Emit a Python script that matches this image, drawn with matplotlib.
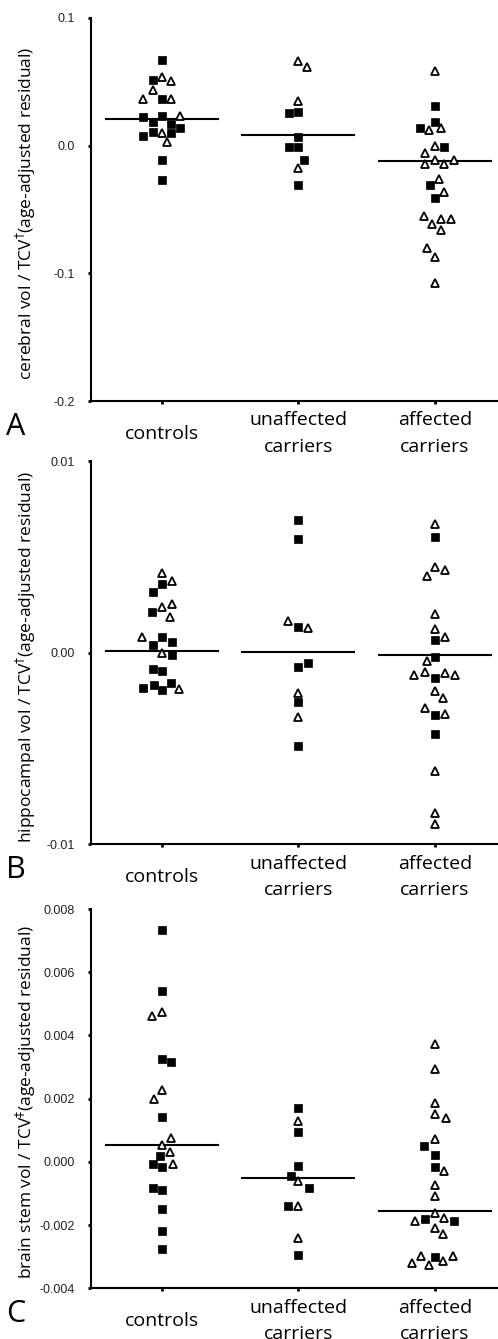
import matplotlib
matplotlib.use("Agg")
import matplotlib.pyplot as plt

# grupos
grupos = ["controls", "unaffected\ncarriers", "affected\ncarriers"]
letras = ["A", "B", "C"]
etiquetas_y = [
    r"cerebral vol / TCV$^{\dagger}$(age-adjusted residual)",
    r"hippocampal vol / TCV$^{\dagger}$(age-adjusted residual)",
    r"brain stem vol / TCV$^{\ddagger}$(age-adjusted residual)",
]

# ticks del eje y
ticks_a = [-0.2, -0.1, 0.0, 0.1]
ticks_a_txt = ["-0.2", "-0.1", "0.0", "0.1"]
ticks_b = [-0.01, 0.0, 0.01]
ticks_b_txt = ["-0.01", "0.00", "0.01"]
ticks_c = [-0.004, -0.002, 0.0, 0.002, 0.004, 0.006, 0.008]
ticks_c_txt = ["-0.004", "-0.002", "0.000", "0.002", "0.004", "0.006", "0.008"]

# Panel A: valores, tipo (s = cuadrado relleno, t = triangulo abierto), desplazamiento
a_ctrl = [0.0667, 0.0515, 0.0536, 0.051, 0.0434, 0.0366, 0.0366, 0.0366, 0.0225, 0.023, 0.023,
          0.0186, 0.017, 0.0139, 0.0078, 0.0107, 0.0099, 0.0099, 0.0026, -0.0112, -0.0269]
a_ctrl_m = ["s", "s", "t", "t", "t", "t", "s", "t", "s", "s", "t",
            "s", "s", "s", "s", "s", "t", "s", "t", "s", "s"]
a_ctrl_j = [0, -1, 0, 1, -1, -2, 0, 1, -2, 0, 2, -1, 1, 2, -2, -1, 0, 1, 0.6, 0, 0]

a_unaf = [0.066, 0.0614, 0.0347, 0.0256, 0.0267, 0.0068, -0.0013, -0.0013, -0.0112, -0.0175, -0.0308]
a_unaf_m = ["t", "t", "t", "s", "s", "s", "s", "s", "s", "t", "s"]
a_unaf_j = [0, 0.9, 0, -1, 0, 0, -1, 0, 0.65, 0, 0]

a_afec = [0.0583, 0.0314, 0.0188, 0.0136, 0.0125, 0.0139, 0.0, -0.001, -0.0057, -0.011, -0.011,
          -0.0141, -0.0141, -0.0306, -0.0261, -0.041, -0.0366, -0.0549, -0.0612, -0.0573, -0.0573,
          -0.0664, -0.0802, -0.0873, -0.1077]
a_afec_m = ["t", "s", "s", "s", "t", "t", "t", "s", "t", "t", "t",
            "t", "t", "s", "t", "s", "t", "t", "t", "t", "t",
            "t", "t", "t", "t"]
a_afec_j = [0, 0, 0, -1.6, -0.65, 0.7, 0, 1.05, -1, 0, 2.1,
            -1, 1.05, -0.5, 0.45, 0, 1.05, -1.2, -0.3, 0.65, 1.8,
            0.65, -0.8, 0, 0]
a_lineas = [0.0212, 0.0081, -0.0123]

# Panel B
b_ctrl = [0.00414, 0.00374, 0.00357, 0.00315, 0.00237, 0.00254, 0.00211, 0.00188, 0.00082, 0.00083,
          0.0004, 0.00057, -0.00003, -0.00012, -0.00087, -0.00095, -0.00186, -0.00168, -0.00195,
          -0.0016, -0.00191]
b_ctrl_m = ["t", "t", "s", "s", "t", "t", "s", "t", "t", "s",
            "s", "s", "t", "s", "s", "s", "s", "s", "s",
            "s", "t"]
b_ctrl_j = [0, 1.05, 0, -1, 0, 1.05, -1.1, 0.85, -2.1, 0,
            -1, 1.05, 0, 1.05, -1, 0, -2, -0.9, 0,
            1, 1.8]

b_unaf = [0.00692, 0.00592, 0.00167, 0.00136, 0.00127, -0.00073, -0.00055, -0.00209, -0.0026,
          -0.00337, -0.00485]
b_unaf_m = ["s", "s", "t", "s", "t", "s", "s", "t", "s", "t", "s"]
b_unaf_j = [0, 0, -1.15, 0, 1.05, 0, 1, 0, 0, 0, 0]

b_afec = [0.0067, 0.00605, 0.00449, 0.00402, 0.00431, 0.002, 0.00124, 0.00083, 0.00066, -0.00042,
          -0.00021, -0.00116, -0.00102, -0.00134, -0.00107, -0.00116, -0.002, -0.00238, -0.0029,
          -0.00325, -0.0032, -0.00424, -0.00616, -0.00838, -0.00894]
b_afec_m = ["t", "s", "t", "t", "t", "t", "t", "t", "s", "t",
            "s", "t", "t", "s", "t", "t", "t", "t", "t",
            "s", "t", "s", "t", "t", "t"]
b_afec_j = [0, 0, 0, -0.85, 1.1, 0, 0, 1.1, 0, -0.85,
            0, -2.2, -1.05, 0, 1.1, 2.2, 0, 0.9, -1.05,
            0, 1.1, 0, 0, 0, 0]
b_lineas = [0.00009, 0.00005, -0.00012]

# Panel C
c_ctrl = [0.00735, 0.00542, 0.00475, 0.00463, 0.00327, 0.00316, 0.00229, 0.002, 0.00142, 0.00076,
          0.00055, 0.0002, 0.00032, -0.00008, -0.00017, -0.00008, -0.00084, -0.0009, -0.00149,
          -0.00219, -0.00275]
c_ctrl_m = ["s", "s", "t", "t", "s", "s", "t", "t", "s", "t",
            "t", "s", "t", "s", "s", "t", "s", "s", "s",
            "s", "s"]
c_ctrl_j = [0, 0, 0, -1.05, 0, 1, 0, -0.8, 0, 1,
            0, -0.2, 0.9, -1, 0, 1.15, -1, 0, 0,
            0, 0]

c_unaf = [0.00171, 0.00131, 0.00094, -0.00014, -0.00045, -0.00059, -0.00084, -0.0014, -0.0014,
          -0.0024, -0.00293]
c_unaf_m = ["s", "t", "s", "s", "s", "t", "s", "s", "t", "t", "s"]
c_unaf_j = [0, 0, 0, 0, -0.8, 0, 1.15, -1.1, 0, 0, 0]

c_afec = [0.00373, 0.00294, 0.00185, 0.00152, 0.00139, 0.00073, 0.00052, 0.00023, -0.00017,
          -0.00029, -0.00074, -0.00109, -0.00161, -0.00188, -0.00182, -0.00177, -0.00188,
          -0.00209, -0.00228, -0.0032, -0.00298, -0.00302, -0.00325, -0.00314, -0.00296]
c_afec_m = ["t", "t", "t", "t", "t", "t", "s", "s", "s",
            "t", "t", "t", "t", "t", "s", "t", "s",
            "t", "t", "t", "t", "s", "t", "t", "t"]
c_afec_j = [0, 0, 0, 0, 1.2, 0, -1.15, 0, 0,
            1, 0, 0, 0, -2.1, -1.05, 1.05, 2.1,
            0, 0.9, -2.4, -1.5, 0, -0.6, 0.9, 2]
c_lineas = [0.00055, -0.00051, -0.00156]

paneles = [
    ([(a_ctrl, a_ctrl_m, a_ctrl_j), (a_unaf, a_unaf_m, a_unaf_j), (a_afec, a_afec_m, a_afec_j)],
     a_lineas, ticks_a, ticks_a_txt),
    ([(b_ctrl, b_ctrl_m, b_ctrl_j), (b_unaf, b_unaf_m, b_unaf_j), (b_afec, b_afec_m, b_afec_j)],
     b_lineas, ticks_b, ticks_b_txt),
    ([(c_ctrl, c_ctrl_m, c_ctrl_j), (c_unaf, c_unaf_m, c_unaf_j), (c_afec, c_afec_m, c_afec_j)],
     c_lineas, ticks_c, ticks_c_txt),
]

# posiciones de los ejes en la figura (left, bottom, width, height)
cajas = [
    [0.1827, 0.7005, 0.8163, 0.2861],
    [0.1827, 0.3695, 0.8163, 0.2862],
    [0.1827, 0.0378, 0.8163, 0.2833],
]
paso = 0.068

fig = plt.figure(figsize=(4.98, 13.39), dpi=100)

for k, (grupos_datos, lineas, ticks, ticks_txt) in enumerate(paneles):
    ax = fig.add_axes(cajas[k])
    for g, (vals, marcas, desp) in enumerate(grupos_datos):
        for v, m, d in zip(vals, marcas, desp):
            x = g + d * paso
            if m == "s":
                ax.plot(x, v, "s", ms=5.4, color="black", mec="black", mew=0.5, zorder=3)
            else:
                ax.plot(x, v, "^", ms=5.5, mfc="white", mec="black", mew=1.3, zorder=3)
        ax.plot([g - 0.41, g + 0.41], [lineas[g], lineas[g]], color="black", lw=1.5, zorder=2)

    ax.set_xlim(-0.52, 2.46)
    ax.set_ylim(ticks[0], ticks[-1])
    ax.set_yticks(ticks)
    ax.set_yticklabels(ticks_txt, fontfamily="Liberation Sans", fontsize=9, color="#222222")
    ax.set_xticks([0, 1, 2])
    ax.set_xticklabels([])
    ax.tick_params(axis="y", length=2.5, width=2, pad=9)
    ax.tick_params(axis="x", length=2, width=2)
    for lado in ["top", "right"]:
        ax.spines[lado].set_visible(False)
    for lado in ["left", "bottom"]:
        ax.spines[lado].set_linewidth(1.5)

    for g, nombre in enumerate(grupos):
        ax.annotate(nombre, xy=(g, 0), xycoords=("data", "axes fraction"),
                    xytext=(0, -23.5), textcoords="offset points",
                    ha="center", va="center", fontsize=14, family="Open Sans",
                    linespacing=1.6)

    ax.set_ylabel(etiquetas_y[k], fontsize=12.5, family="Open Sans")
    ax.yaxis.set_label_coords(-0.13, 0.49)

    ax.text(-0.185, -0.028, letras[k], transform=ax.transAxes, fontsize=22, family="Open Sans",
            ha="center", va="top")

fig.savefig("out.png", dpi=100)
